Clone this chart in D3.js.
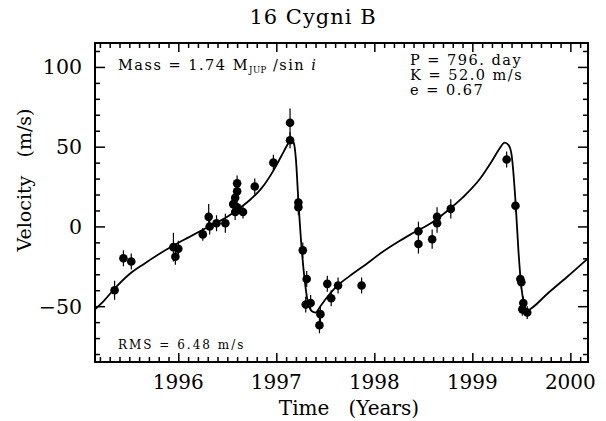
<!DOCTYPE html>
<html lang="en">
<head>
  <meta charset="UTF-8">
  <title>16 Cygni B</title>
  <script src="https://d3js.org/d3.v7.min.js"></script>
  <style>
    body { margin: 0; background: #fff; }
    text { font-family: "DejaVu Serif", serif; fill: #000; }
  </style>
</head>
<body>
  <div id="chart"></div>
  <script>

    // observed velocities: year, m/s, error
    const obsYear = [1995.35, 1995.44, 1995.52, 1995.95, 1995.97, 1996.00, 1996.25, 1996.31, 1996.32, 1996.39,
      1996.48, 1996.56, 1996.58, 1996.60, 1996.60, 1996.60, 1996.58, 1996.66, 1996.78, 1996.97,
      1997.14, 1997.14, 1997.225, 1997.225, 1997.27, 1997.31, 1997.30, 1997.35, 1997.45, 1997.44,
      1997.52, 1997.56, 1997.63, 1997.87, 1998.45, 1998.45, 1998.59, 1998.64, 1998.64, 1998.78,
      1999.35, 1999.44, 1999.49, 1999.50, 1999.52, 1999.51, 1999.56];
    const obsVel = [-40, -20, -22, -13, -19, -14, -5, 6, 0, 2,
      2, 14, 18, 22, 27, 12, 9, 9, 25, 40,
      65, 54, 15, 12, -15, -33, -49, -48, -55, -62,
      -36, -45, -37, -37, -3, -11, -8, 6, 2, 11,
      42, 13, -33, -35, -48, -52, -54];
    const obsErr = [6, 5, 5, 9, 5, 5, 4, 8, 5, 5,
      6, 5, 5, 5, 5, 5, 5, 4, 5, 5,
      9, 5, 5, 5, 5, 5, 5, 5, 5, 5,
      5, 5, 5, 5, 6, 6, 6, 6, 6, 6,
      5, 4, 4, 4, 4, 4, 4];

    // orbit fit curve
    const fitYear = [1995.15, 1995.25, 1995.35, 1995.5, 1995.65, 1995.8, 1995.95, 1996.1, 1996.3, 1996.5,
      1996.7, 1996.85, 1996.97, 1997.05, 1997.12, 1997.15, 1997.18, 1997.2, 1997.225, 1997.26,
      1997.29, 1997.32, 1997.36, 1997.4, 1997.45, 1997.51, 1997.6, 1997.75, 1997.92, 1998.06,
      1998.26, 1998.4, 1998.6, 1998.74, 1998.9, 1999.08, 1999.2, 1999.28, 1999.33, 1999.37,
      1999.4, 1999.44, 1999.47, 1999.5, 1999.53, 1999.56, 1999.6, 1999.76, 1999.96, 2000.18];
    const fitVel = [-52, -46, -39, -30, -23.5, -17.5, -12, -7, -0.5, 6,
      15, 24, 35, 44, 52, 55, 52, 42, 16, -15,
      -34, -47, -53, -54, -50, -45, -38.5, -31, -23.5, -17,
      -9, -4, 3, 9.5, 18, 30, 41, 49, 52.5, 51,
      45, 16, -15, -38, -49, -53, -51.5, -42.5, -32, -20];

    const yearTicks = [1996, 1997, 1998, 1999, 2000];
    const velTicks = [-50, 0, 50, 100];
    const fitLines = ['P = 796. day', 'K = 52.0 m/s', 'e = 0.67'];

    const width = 606, height = 421;
    const frame = { left: 95, right: 588, top: 43, bottom: 362 };

    const svg = d3.select('#chart').append('svg')
      .attr('width', width)
      .attr('height', height);

    const x = d3.scaleLinear().domain([1995.15, 2000.18]).range([frame.left, frame.right]);
    const y = d3.scaleLinear().domain([-85, 115]).range([frame.bottom, frame.top]);

    // ticks on all four sides, pointing inward
    const xMinor = d3.range(1995.2, 2000.15, 0.1).filter(v => Math.abs(v - Math.round(v)) > 0.01);
    const yMinor = d3.range(-80, 115, 10).filter(v => v % 50 !== 0);

    const axisStyle = g => {
      g.select('.domain').remove();
      g.selectAll('.tick line').attr('stroke', '#000').attr('stroke-width', 1.5);
    };

    svg.append('g').attr('transform', `translate(0,${frame.bottom})`)
      .call(d3.axisTop(x).tickValues(yearTicks).tickSize(9).tickFormat(''))
      .call(axisStyle);
    svg.append('g').attr('transform', `translate(0,${frame.bottom})`)
      .call(d3.axisTop(x).tickValues(xMinor).tickSize(5).tickFormat(''))
      .call(axisStyle);
    svg.append('g').attr('transform', `translate(0,${frame.top})`)
      .call(d3.axisBottom(x).tickValues(yearTicks).tickSize(9).tickFormat(''))
      .call(axisStyle);
    svg.append('g').attr('transform', `translate(0,${frame.top})`)
      .call(d3.axisBottom(x).tickValues(xMinor).tickSize(5).tickFormat(''))
      .call(axisStyle);

    svg.append('g').attr('transform', `translate(${frame.left},0)`)
      .call(d3.axisRight(y).tickValues(velTicks).tickSize(10).tickFormat(''))
      .call(axisStyle);
    svg.append('g').attr('transform', `translate(${frame.left},0)`)
      .call(d3.axisRight(y).tickValues(yMinor).tickSize(5).tickFormat(''))
      .call(axisStyle);
    svg.append('g').attr('transform', `translate(${frame.right},0)`)
      .call(d3.axisLeft(y).tickValues(velTicks).tickSize(10).tickFormat(''))
      .call(axisStyle);
    svg.append('g').attr('transform', `translate(${frame.right},0)`)
      .call(d3.axisLeft(y).tickValues(yMinor).tickSize(5).tickFormat(''))
      .call(axisStyle);

    svg.append('rect')
      .attr('x', frame.left).attr('y', frame.top)
      .attr('width', frame.right - frame.left)
      .attr('height', frame.bottom - frame.top)
      .attr('fill', 'none')
      .attr('stroke', '#000')
      .attr('stroke-width', 2);

    // tick labels
    svg.append('g').selectAll('text')
      .data(yearTicks)
      .enter()
      .append('text')
      .attr('x', d => x(d))
      .attr('y', 389)
      .attr('text-anchor', 'middle')
      .style('font-size', '20px')
      .text(d => d);

    svg.append('g').selectAll('text')
      .data(velTicks)
      .enter()
      .append('text')
      .attr('x', 82)
      .attr('y', d => y(d) + 7.5)
      .attr('text-anchor', 'end')
      .style('font-size', '20.5px')
      .text(d => d < 0 ? '\u2212' + Math.abs(d) : d);

    // titles
    svg.append('text')
      .attr('x', 313).attr('y', 24)
      .attr('text-anchor', 'middle')
      .style('font-size', '21px')
      .style('letter-spacing', '1px')
      .text('16 Cygni B');

    svg.append('text')
      .attr('x', 349).attr('y', 415)
      .attr('text-anchor', 'middle')
      .style('font-size', '20px')
      .style('white-space', 'pre')
      .text('Time   (Years)');

    svg.append('text')
      .attr('transform', 'translate(31,180) rotate(-90)')
      .attr('text-anchor', 'middle')
      .style('font-size', '19px')
      .style('white-space', 'pre')
      .text('Velocity   (m/s)');

    // annotations
    const mass = svg.append('text')
      .attr('x', 118).attr('y', 70)
      .style('font-size', '14.5px')
      .style('letter-spacing', '1.5px')
      .style('white-space', 'pre');
    mass.append('tspan').text('Mass = 1.74 M');
    mass.append('tspan').attr('dy', 3).style('font-size', '8.5px').style('letter-spacing', '0.5px').text('JUP');
    mass.append('tspan').attr('dy', -3).text(' /sin ');
    mass.append('tspan').style('font-style', 'italic').text('i');

    svg.append('g').selectAll('text')
      .data(fitLines)
      .enter()
      .append('text')
      .attr('x', 410)
      .attr('y', (d, i) => 65 + i * 15)
      .style('font-size', '14.5px')
      .style('letter-spacing', '1.5px')
      .style('white-space', 'pre')
      .text(d => d);

    svg.append('text')
      .attr('x', 118).attr('y', 349)
      .style('font-size', '12px')
      .style('letter-spacing', '2px')
      .style('white-space', 'pre')
      .text('RMS = 6.48 m/s');

    // fit curve
    const fit = fitYear.map((d, i) => ({ t: d, v: fitVel[i] }));
    svg.append('path')
      .datum(fit)
      .attr('fill', 'none')
      .attr('stroke', '#000')
      .attr('stroke-width', 1.8)
      .attr('d', d3.line().x(d => x(d.t)).y(d => y(d.v)).curve(d3.curveMonotoneX));

    // observations with error bars
    const obs = obsYear.map((d, i) => ({ t: d, v: obsVel[i], e: obsErr[i] }));
    const pt = svg.append('g').selectAll('g')
      .data(obs)
      .enter()
      .append('g');

    pt.append('line')
      .attr('x1', d => x(d.t)).attr('x2', d => x(d.t))
      .attr('y1', d => y(d.v - d.e)).attr('y2', d => y(d.v + d.e))
      .attr('stroke', '#000')
      .attr('stroke-width', 1.2);

    pt.append('circle')
      .attr('cx', d => x(d.t))
      .attr('cy', d => y(d.v))
      .attr('r', 4.3)
      .attr('fill', '#000');

  </script>
</body>
</html>
